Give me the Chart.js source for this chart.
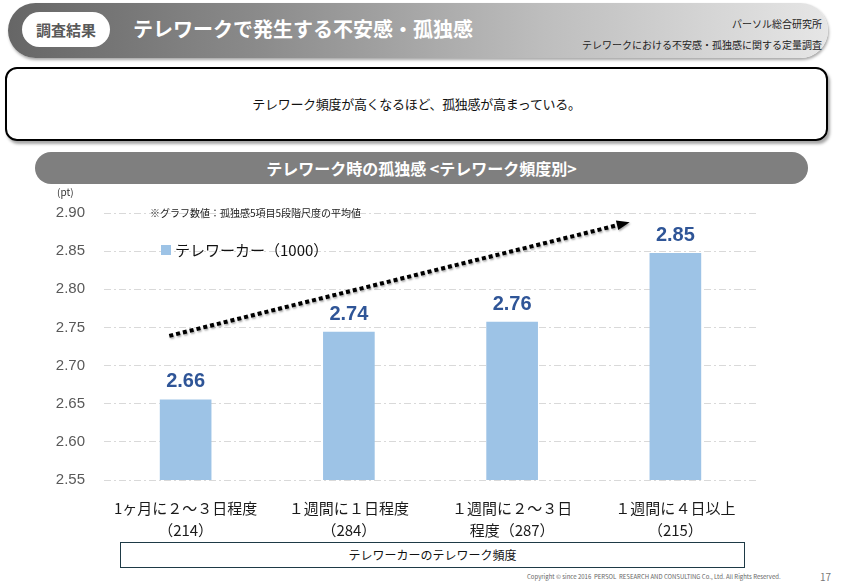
<!DOCTYPE html>
<html lang="ja">
<head>
<meta charset="UTF-8">
<title>テレワークで発生する不安感・孤独感</title>
<script src="https://cdn.jsdelivr.net/npm/chart.js"></script>
<style>
    body {
        margin: 0;
        width: 845px;
        height: 587px;
        position: relative;
        overflow: hidden;
        background: #fff;
        font-family: "Noto Sans CJK JP", "Noto Sans", sans-serif;
    }
    .abs { position: absolute; }
    #header {
        left: 8px; top: 3px; width: 820px; height: 55px;
        border-radius: 28px;
        background: linear-gradient(to right, #666 0%, #8a8a8a 30%, #bdbdbd 65%, #e6e6e6 100%);
        box-shadow: 1px 2px 3px rgba(0,0,0,0.35);
    }
    #tag {
        left: 22px; top: 12px; width: 88px; height: 35px;
        border-radius: 18px; background: #fff;
        color: #595959; font-weight: bold; font-size: 15px;
        text-align: center; line-height: 35px;
    }
    #title {
        left: 133px; top: 14px; color: #fff; font-weight: bold; font-size: 20px; line-height: 30px;
    }
    #source {
        right: 23px; top: 13px; text-align: right; font-size: 10px; line-height: 21px; color: #222;
    }
    #summary {
        left: 5px; top: 67px; width: 819px; height: 70px;
        border: 2px solid #000; border-radius: 12px;
        box-shadow: 2px 3px 3px rgba(0,0,0,0.35);
        text-align: center; line-height: 70px; font-size: 13px; color: #111;
        letter-spacing: -0.3px;
    }
    #section {
        left: 35px; top: 152px; width: 773px; height: 32px;
        border-radius: 16px; background: #7f7f7f;
        color: #fff; font-weight: bold; font-size: 16px; text-align: center; line-height: 32px;
    }
    #pt { left: 57px; top: 184px; font-size: 10px; color: #333; }
    #note { left: 150px; top: 205px; font-size: 10px; color: #222; }
    #chartBox { left: 0; top: 185px; width: 845px; height: 365px; }
    #axisBox {
        left: 120px; top: 542px; width: 623px; height: 24px;
        border: 1px solid #1e3a46; background: #fff;
        text-align: center; line-height: 24px; font-size: 12px; color: #111;
    }
    #copy { left: 527px; top: 572px; font-size: 6px; color: #666; }
    #page { left: 820px; top: 569px; font-size: 10px; color: #777; }
</style>
</head>
<body>

<div id="header" class="abs"></div>
<div id="tag" class="abs">調査結果</div>
<div id="title" class="abs">テレワークで発生する不安感・孤独感</div>
<div id="source" class="abs">パーソル総合研究所<br>テレワークにおける不安感・孤独感に関する定量調査</div>

<div id="summary" class="abs">テレワーク頻度が高くなるほど、孤独感が高まっている。</div>

<div id="section" class="abs">テレワーク時の孤独感 &lt;テレワーク頻度別&gt;</div>

<div id="chartBox" class="abs"><canvas id="lonelyChart"></canvas></div>
<div id="pt" class="abs">(pt)</div>
<div id="note" class="abs">※グラフ数値：孤独感5項目5段階尺度の平均値</div>

<div id="axisBox" class="abs">テレワーカーのテレワーク頻度</div>
<div id="copy" class="abs">Copyright © since 2016&nbsp; PERSOL&nbsp; RESEARCH AND CONSULTING Co., Ltd. All Rights Reserved.</div>
<div id="page" class="abs">17</div>

<script>
    // カテゴリ（テレワーク頻度と回答者数）
    const categories = [
        ['1ヶ月に２～３日程度', '（214）'],
        ['１週間に１日程度', '（284）'],
        ['１週間に２～３日', '程度（287）'],
        ['１週間に４日以上', '（215）']
    ];
    // 孤独感の平均値（バーの高さ）と表示ラベル
    const lonelyValues = [2.655, 2.744, 2.757, 2.847];
    const valueLabels = ['2.66', '2.74', '2.76', '2.85'];
    const seriesName = 'テレワーカー（1000）';

    // 軸の範囲
    const yMin = 2.55;
    const yMax = 2.90;
    const yStep = 0.05;

    // 傾向を示す点線矢印（カテゴリ位置, 値）
    const trendFrom = [-0.1, 2.739];
    const trendTo = [2.72, 2.888];

    const barColor = '#9dc3e6';
    const labelColor = '#2f5597';

    // 数値ラベル
    const valueLabelPlugin = {
        id: 'valueLabels',
        afterDatasetsDraw(chart) {
            const ctx = chart.ctx;
            const meta = chart.getDatasetMeta(0);
            ctx.save();
            ctx.font = 'bold 20px "Liberation Sans", Arial, sans-serif';
            ctx.fillStyle = labelColor;
            ctx.textAlign = 'center';
            ctx.textBaseline = 'middle';
            meta.data.forEach((bar, i) => {
                ctx.fillText(valueLabels[i], bar.x, bar.y - 18);
            });
            ctx.restore();
        }
    };

    // 凡例
    const legendPlugin = {
        id: 'simpleLegend',
        afterDraw(chart) {
            const ctx = chart.ctx;
            const area = chart.chartArea;
            const ds = chart.data.datasets[0];
            const x = area.left + 57;
            const y = area.top + 37;
            ctx.save();
            ctx.fillStyle = ds.backgroundColor;
            ctx.fillRect(x, y - 5, 10, 10);
            ctx.fillStyle = '#111';
            ctx.font = '15px "Noto Sans CJK JP", sans-serif';
            ctx.textBaseline = 'middle';
            ctx.fillText(ds.label, x + 14, y);
            ctx.restore();
        }
    };

    // 点線矢印
    const trendArrowPlugin = {
        id: 'trendArrow',
        afterDatasetsDraw(chart) {
            const ctx = chart.ctx;
            const xs = chart.scales.x;
            const ys = chart.scales.y;
            const x1 = xs.getPixelForValue(trendFrom[0]);
            const y1 = ys.getPixelForValue(trendFrom[1]);
            const x2 = xs.getPixelForValue(trendTo[0]);
            const y2 = ys.getPixelForValue(trendTo[1]);
            const ang = Math.atan2(y2 - y1, x2 - x1);
            const head = 13;
            ctx.save();
            ctx.shadowColor = 'rgba(0,0,0,0.35)';
            ctx.shadowOffsetX = 1;
            ctx.shadowOffsetY = 1.5;
            ctx.shadowBlur = 2;
            ctx.strokeStyle = '#000';
            ctx.lineWidth = 4;
            ctx.setLineDash([4, 3]);
            ctx.beginPath();
            ctx.moveTo(x1, y1);
            ctx.lineTo(x2 - head * Math.cos(ang), y2 - head * Math.sin(ang));
            ctx.stroke();
            ctx.setLineDash([]);
            ctx.fillStyle = '#000';
            ctx.beginPath();
            ctx.moveTo(x2, y2);
            ctx.lineTo(x2 - head * Math.cos(ang) + 5 * Math.sin(ang), y2 - head * Math.sin(ang) - 5 * Math.cos(ang));
            ctx.lineTo(x2 - head * Math.cos(ang) - 5 * Math.sin(ang), y2 - head * Math.sin(ang) + 5 * Math.cos(ang));
            ctx.closePath();
            ctx.fill();
            ctx.restore();
        }
    };

    const ctx = document.getElementById('lonelyChart').getContext('2d');
    new Chart(ctx, {
        type: 'bar',
        data: {
            labels: categories,
            datasets: [{
                label: seriesName,
                data: lonelyValues,
                backgroundColor: barColor,
                borderWidth: 0,
                barThickness: 51
            }]
        },
        options: {
            responsive: true,
            maintainAspectRatio: false,
            animation: false,
            layout: { padding: { top: 26, right: 88, bottom: 0, left: 0 } },
            plugins: {
                legend: { display: false },
                tooltip: { enabled: false }
            },
            scales: {
                x: {
                    grid: { display: false, drawTicks: false },
                    border: { display: false },
                    ticks: {
                        padding: 17,
                        color: '#1a1a1a',
                        font: { family: '"Noto Sans CJK JP", sans-serif', size: 15, lineHeight: 1.47 }
                    },
                    afterFit(scale) { scale.height = 70; }
                },
                y: {
                    min: yMin,
                    max: yMax,
                    border: { display: false, dash: [7, 3, 2, 3] },
                    grid: { color: '#d9d9d9', lineWidth: 1, drawTicks: false },
                    ticks: {
                        stepSize: yStep,
                        padding: 19,
                        color: '#595959',
                        font: { family: '"Liberation Sans", Arial, sans-serif', size: 15 },
                        callback: v => Number(v).toFixed(2)
                    },
                    afterFit(scale) { scale.width = 104; }
                }
            }
        },
        plugins: [valueLabelPlugin, trendArrowPlugin, legendPlugin]
    });
</script>
</body>
</html>
